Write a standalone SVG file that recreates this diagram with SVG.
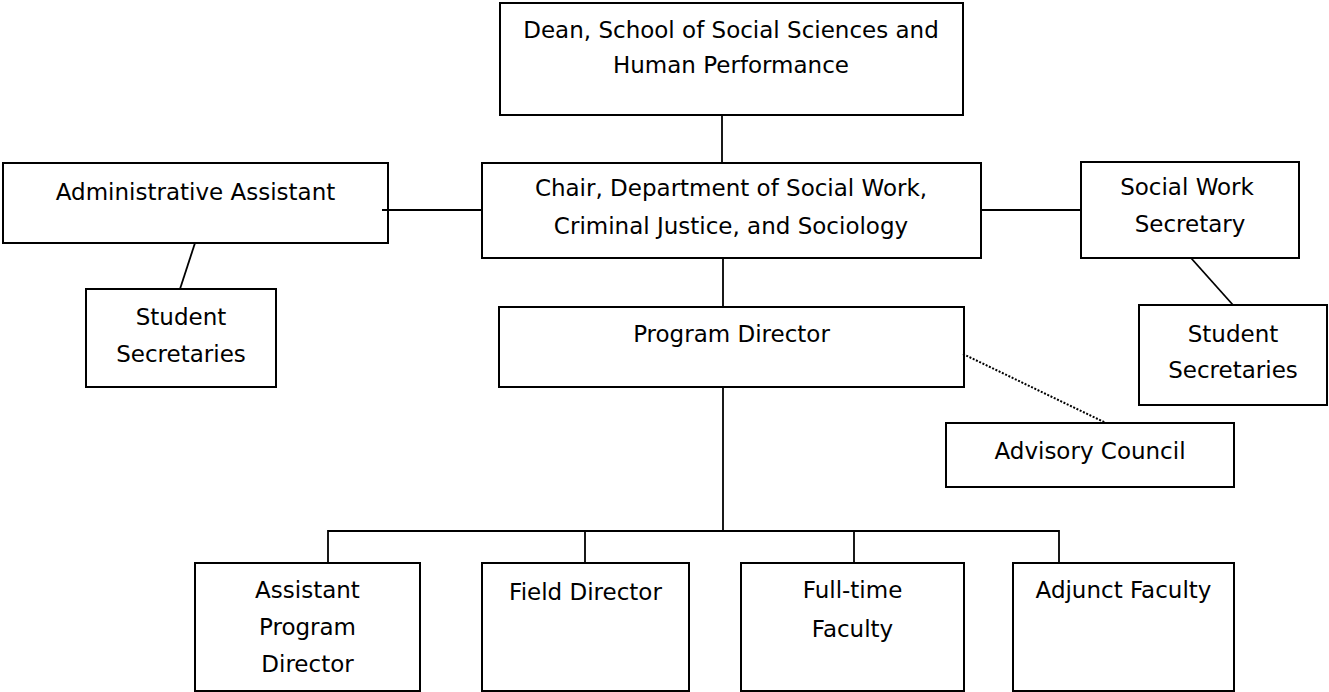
<svg xmlns="http://www.w3.org/2000/svg" width="1329" height="692" viewBox="0 0 1329 692">
<style>
.box{fill:#fff;stroke:#000;stroke-width:2}
.t{font-family:"DejaVu Sans",sans-serif;font-size:23px;fill:#000;text-anchor:middle}
.c{fill:none;stroke:#000;stroke-width:1.8}
.d{fill:none;stroke:#000;stroke-width:2;stroke-dasharray:2 1.6}
</style>
<rect width="1329" height="692" fill="#fff"/>
<g id="dean">
<rect class="box" x="500" y="3" width="463" height="112"/>
<text class="t" x="731" y="38">Dean, School of Social Sciences and</text>
<text class="t" x="731" y="73">Human Performance</text>
</g>
<g id="chair">
<rect class="box" x="482" y="163" width="499" height="95"/>
<text class="t" x="731" y="196">Chair, Department of Social Work,</text>
<text class="t" x="731" y="234">Criminal Justice, and Sociology</text>
</g>
<g id="admin">
<rect class="box" x="3" y="163" width="385" height="80"/>
<text class="t" x="195.5" y="200">Administrative Assistant</text>
</g>
<g id="student-secretaries-left">
<rect class="box" x="86" y="289" width="190" height="98"/>
<text class="t" x="181" y="325">Student</text>
<text class="t" x="181" y="362">Secretaries</text>
</g>
<g id="sw-secretary">
<rect class="box" x="1081" y="162" width="218" height="96"/>
<text class="t" x="1187" y="195">Social Work</text>
<text class="t" x="1190" y="232">Secretary</text>
</g>
<g id="student-secretaries-right">
<rect class="box" x="1139" y="305" width="188" height="100"/>
<text class="t" x="1233" y="342">Student</text>
<text class="t" x="1233" y="378">Secretaries</text>
</g>
<g id="program-director">
<rect class="box" x="499" y="307" width="465" height="80"/>
<text class="t" x="731.5" y="342">Program Director</text>
</g>
<g id="advisory-council">
<rect class="box" x="946" y="423" width="288" height="64"/>
<text class="t" x="1090" y="459">Advisory Council</text>
</g>
<g id="assistant-program-director">
<rect class="box" x="195" y="563" width="225" height="128"/>
<text class="t" x="307.5" y="598">Assistant</text>
<text class="t" x="307.5" y="635">Program</text>
<text class="t" x="307.5" y="672">Director</text>
</g>
<g id="field-director">
<rect class="box" x="482" y="563" width="207" height="128"/>
<text class="t" x="585.5" y="600">Field Director</text>
</g>
<g id="full-time-faculty">
<rect class="box" x="741" y="563" width="223" height="128"/>
<text class="t" x="852.5" y="598">Full-time</text>
<text class="t" x="852.5" y="637">Faculty</text>
</g>
<g id="adjunct-faculty">
<rect class="box" x="1013" y="563" width="221" height="128"/>
<text class="t" x="1123.5" y="598">Adjunct Faculty</text>
</g>
<g id="connectors">
<line class="c" x1="722" y1="115" x2="722" y2="163"/>
<line class="c" x1="723" y1="258" x2="723" y2="307"/>
<line class="c" x1="382" y1="210" x2="482" y2="210"/>
<line class="c" x1="981" y1="210" x2="1081" y2="210"/>
<line class="c" x1="195" y1="243" x2="180" y2="289"/>
<line class="c" x1="1191" y1="258" x2="1233" y2="305"/>
<line class="c" x1="723" y1="387" x2="723" y2="531"/>
<path class="c" d="M328,563 V531 H1059 V563"/>
<line class="c" x1="585" y1="531" x2="585" y2="563"/>
<line class="c" x1="854" y1="531" x2="854" y2="563"/>
<line class="d" x1="963" y1="354" x2="1106" y2="423"/>
</g>
</svg>
